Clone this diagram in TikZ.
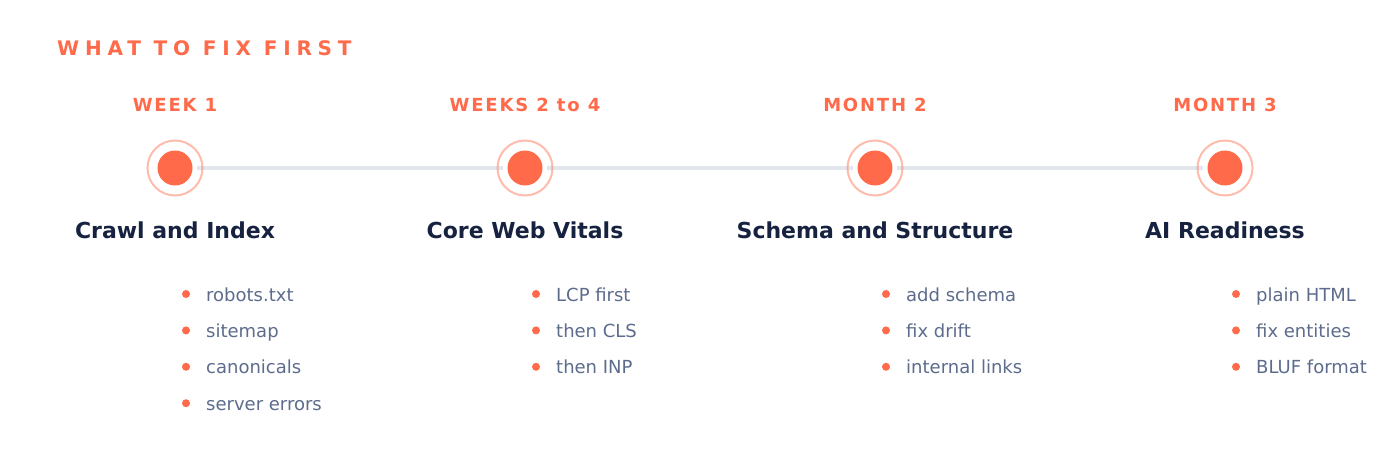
\documentclass[tikz,border=0pt]{standalone}
\usepackage{fontspec}
\setmainfont{DejaVu Sans}
\newfontfamily\titlefont[LetterSpace=29]{DejaVu Sans Bold}
\newfontfamily\phasefont[LetterSpace=10]{DejaVu Sans Bold}
\definecolor{coral}{HTML}{FF6B4A}
\definecolor{navy}{HTML}{16223F}
\definecolor{slate}{HTML}{5D6C8C}
\definecolor{track}{HTML}{E4E6EE}
\begin{document}
\begin{tikzpicture}[x=1pt,y=-1pt,
  title/.style={anchor=base west,inner sep=0pt,text=coral,font=\titlefont\fontsize{20}{24}\selectfont},
  phase/.style={anchor=base,inner sep=0pt,text=coral,font=\phasefont\fontsize{18}{22}\selectfont},
  heading/.style={anchor=base,inner sep=0pt,text=navy,font=\bfseries\fontsize{22}{26}\selectfont},
  item/.style={anchor=base west,inner sep=0pt,text=slate,font=\fontsize{18}{22}\selectfont},
  bullet/.style={circle,fill=coral,inner sep=0pt,minimum size=8pt},
  halo/.style={circle,fill=white,inner sep=0pt,minimum size=44pt},
  ring/.style={circle,draw=coral,draw opacity=0.45,line width=2pt,inner sep=0pt,minimum size=55pt},
  dot/.style={circle,fill=coral,inner sep=0pt,minimum size=35pt}]
\useasboundingbox[fill=white] (0,0) rectangle (1400,476);
\node[title] (t) at (57,56) {WHAT TO FIX FIRST};
% timeline points
\foreach \i/\x in {1/175,2/525,3/875,4/1225}{
  \coordinate (c\i) at (\x,168);
}
\draw[track,line width=3.5pt] (c1) -- (c4);
\foreach \i in {1,2,3,4}{
  \node[halo] (h\i) at (c\i) {};
  \node[ring] (r\i) at (c\i) {};
  \node[dot] (d\i) at (c\i) {};
}
% phase labels
\node[phase] (p1) at (175,112) {WEEK 1};
\node[phase] (p2) at (525,112) {WEEKS 2 to 4};
\node[phase] (p3) at (875,112) {MONTH 2};
\node[phase] (p4) at (1225,112) {MONTH 3};
% headings
\node[heading] (g1) at (175,238) {Crawl and Index};
\node[heading] (g2) at (525,238) {Core Web Vitals};
\node[heading] (g3) at (875,238) {Schema and Structure};
\node[heading] (g4) at (1225,238) {AI Readiness};
% items
\foreach \c/\x/\list in {1/175/{robots.txt,sitemap,canonicals,server errors},
                         2/525/{LCP first,then CLS,then INP},
                         3/875/{add schema,fix drift,internal links},
                         4/1225/{plain HTML,fix entities,BLUF format}}{
  \foreach \t [count=\k] in \list {
    \node[bullet] (b\c-\k) at ({\x+11},{294+36.4*(\k-1)}) {};
    \node[item] (i\c-\k) at ({\x+31},{301+36.4*(\k-1)}) {\t};
  }
}
\end{tikzpicture}
\end{document}
